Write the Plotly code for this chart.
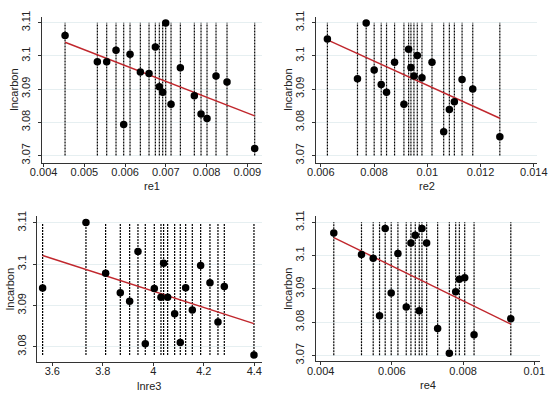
import plotly.graph_objects as go

# ---- data ----
re1 = [0.004526, 0.005319, 0.005548, 0.005777, 0.005965, 0.006121, 0.006374, 0.006587, 0.006742, 0.006840,
       0.006922, 0.006996, 0.007127, 0.007356, 0.007699, 0.007863, 0.008010, 0.008231, 0.008501, 0.009180]
y1 = [3.1061, 3.0982, 3.0982, 3.1017, 3.0793, 3.1005, 3.0951, 3.0947, 3.1027, 3.0907,
      3.0890, 3.1099, 3.0854, 3.0964, 3.0880, 3.0825, 3.0811, 3.0939, 3.0921, 3.0721]

re2 = [0.006248, 0.007378, 0.007704, 0.008005, 0.008269, 0.008469, 0.008770, 0.009122, 0.009297, 0.009385,
       0.009498, 0.009624, 0.009799, 0.010176, 0.010615, 0.010828, 0.011016, 0.011305, 0.011706, 0.012723]
y2 = [3.1051, 3.0931, 3.1099, 3.0957, 3.0914, 3.0890, 3.0981, 3.0854, 3.1020, 3.0965,
      3.0939, 3.1001, 3.0934, 3.0981, 3.0771, 3.0838, 3.0862, 3.0929, 3.0900, 3.0756]

lnre3 = [3.5617, 3.7333, 3.8112, 3.8693, 3.9063, 3.9393, 3.9683, 4.0040, 4.0304, 4.0409,
         4.0568, 4.0845, 4.1069, 4.1281, 4.1545, 4.1875, 4.2244, 4.2561, 4.2812, 4.3987]
y3 = [3.0942, 3.1101, 3.0978, 3.0931, 3.0910, 3.1031, 3.0807, 3.0941, 3.0920, 3.1002,
      3.0920, 3.0880, 3.0810, 3.0943, 3.0889, 3.0997, 3.0955, 3.0860, 3.0946, 3.0780]

re4 = [0.004368, 0.005146, 0.005475, 0.005653, 0.005812, 0.005981, 0.006169, 0.006403, 0.006535, 0.006657,
       0.006769, 0.006844, 0.006976, 0.007285, 0.007614, 0.007792, 0.007895, 0.008045, 0.008308, 0.009340]
y4 = [3.1068, 3.1003, 3.0992, 3.0819, 3.1081, 3.0887, 3.1006, 3.0845, 3.1038, 3.1061,
      3.0834, 3.1081, 3.1038, 3.0781, 3.0706, 3.0891, 3.0929, 3.0933, 3.0762, 3.0810]

# fitted line end values (at first and last x of each panel)
fit1 = [3.1041, 3.0819]
fit2 = [3.1048, 3.0812]
fit3 = [3.1021, 3.0856]
fit4 = [3.1054, 3.0794]

# vertical spike spans
spike_lo = [3.07, 3.07, 3.078, 3.07]
spike_hi = [3.11, 3.11, 3.11, 3.11]

x_titles = ["re1", "re2", "lnre3", "re4"]
y_title = "lncarbon"

x_tickvals = [
    [0.004, 0.005, 0.006, 0.007, 0.008, 0.009],
    [0.006, 0.008, 0.010, 0.012, 0.014],
    [3.6, 3.8, 4.0, 4.2, 4.4],
    [0.004, 0.006, 0.008, 0.010],
]
x_ticktext = [
    ["0.004", "0.005", "0.006", "0.007", "0.008", "0.009"],
    ["0.006", "0.008", "0.01", "0.012", "0.014"],
    ["3.6", "3.8", "4", "4.2", "4.4"],
    ["0.004", "0.006", "0.008", "0.01"],
]
y_tickvals = [
    [3.07, 3.08, 3.09, 3.10, 3.11],
    [3.07, 3.08, 3.09, 3.10, 3.11],
    [3.08, 3.09, 3.10, 3.11],
    [3.07, 3.08, 3.09, 3.10, 3.11],
]
y_ticktext = [
    ["3.07", "3.08", "3.09", "3.1", "3.11"],
    ["3.07", "3.08", "3.09", "3.1", "3.11"],
    ["3.08", "3.09", "3.1", "3.11"],
    ["3.07", "3.08", "3.09", "3.1", "3.11"],
]

# ---- layout (styles / positions) ----
W, H = 550, 396
# plot-area boxes in pixels: left, right, top, bottom
boxes = [
    (41.7, 261.7, 16.7, 162.7),
    (315.7, 537.3, 16.7, 162.7),
    (37.3, 261.7, 216.3, 362.0),
    (315.7, 540.0, 216.3, 361.3),
]
x_ranges = [
    [0.003953, 0.009352],
    [0.005809, 0.014130],
    [3.5406, 4.4293],
    [0.003860, 0.010160],
]
y_ranges = [
    [3.0678, 3.1118],
    [3.0678, 3.1118],
    [3.0763, 3.1116],
    [3.0682, 3.1118],
]
# title centre positions in pixels (x-title y, y-title x)
xtitle_y = [186, 186, 386, 385]
ytitle_x = [14, 288, 10, 288]

FONT = "Liberation Sans, Arial, sans-serif"
GRID = "#e6eff1"
AXC = "#333333"
RED = "#c1272d"
TXT = "#222222"

xs = [re1, re2, lnre3, re4]
ys = [y1, y2, y3, y4]
fits = [fit1, fit2, fit3, fit4]

fig = go.Figure()
layout = dict(
    width=W, height=H, margin=dict(l=0, r=0, t=0, b=0, autoexpand=False),
    paper_bgcolor="white", plot_bgcolor="white", showlegend=False,
    font=dict(family=FONT, size=11, color=TXT),
)
annotations = []

for i in range(4):
    sfx = "" if i == 0 else str(i + 1)
    xa, ya = "x" + sfx, "y" + sfx
    xv, yv = xs[i], ys[i]
    # spikes
    sx, sy = [], []
    for v in xv:
        sx += [v, v, None]
        sy += [spike_lo[i], spike_hi[i], None]
    fig.add_trace(go.Scatter(x=sx, y=sy, mode="lines", xaxis=xa, yaxis=ya,
                             line=dict(color="#000000", width=1.2, dash="2px,1px"),
                             hoverinfo="skip"))
    # fit line
    fig.add_trace(go.Scatter(x=[xv[0], xv[-1]], y=fits[i], mode="lines", xaxis=xa, yaxis=ya,
                             line=dict(color=RED, width=1.4)))
    # points
    fig.add_trace(go.Scatter(x=xv, y=yv, mode="markers", xaxis=xa, yaxis=ya,
                             marker=dict(color="black", size=7.5, line=dict(width=0))))

    l, r, t, b = boxes[i]
    layout["xaxis" + sfx] = dict(
        domain=[l / W, r / W], anchor=ya, range=x_ranges[i], automargin=False,
        tickmode="array", tickvals=x_tickvals[i], ticktext=x_ticktext[i],
        showgrid=False, zeroline=False, showline=True, linecolor=AXC, linewidth=1,
        ticks="outside", ticklen=3, tickcolor=AXC, ticklabelstandoff=-4,
        tickfont=dict(size=11, family=FONT, color=TXT),
    )
    layout["yaxis" + sfx] = dict(
        domain=[1 - b / H, 1 - t / H], anchor=xa, range=y_ranges[i], automargin=False,
        tickmode="array", tickvals=y_tickvals[i], ticktext=y_ticktext[i], tickangle=-90,
        showgrid=True, gridcolor=GRID, gridwidth=1,
        zeroline=False, showline=True, linecolor=AXC, linewidth=1,
        ticks="outside", ticklen=3, tickcolor=AXC, ticklabelstandoff=3,
        tickfont=dict(size=11, family=FONT, color=TXT),
    )
    annotations.append(dict(text=x_titles[i], xref="paper", yref="paper",
                            x=(l + r) / 2 / W, y=1 - xtitle_y[i] / H,
                            xanchor="center", yanchor="middle", showarrow=False,
                            font=dict(size=11, family=FONT, color=TXT)))
    annotations.append(dict(text=y_title, xref="paper", yref="paper", textangle=-90,
                            x=ytitle_x[i] / W, y=1 - (t + b) / 2 / H,
                            xanchor="center", yanchor="middle", showarrow=False,
                            font=dict(size=11, family=FONT, color=TXT)))

layout["annotations"] = annotations
fig.update_layout(**layout)
fig.write_html("out.html", config={"displayModeBar": False},
               post_script="document.body.style.margin='0';document.body.style.overflow='hidden';")
